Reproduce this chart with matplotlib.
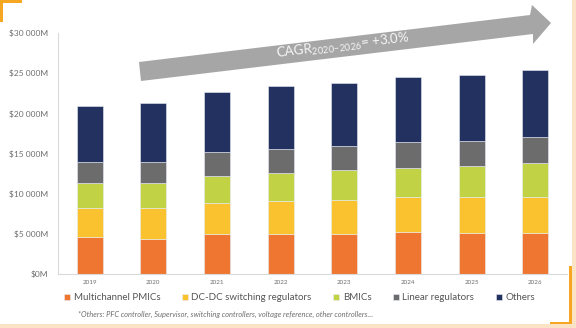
import numpy as np
import matplotlib.pyplot as plt
from matplotlib.patches import Polygon, Rectangle

plt.rcParams['font.family'] = ['Lato', 'DejaVu Sans']
plt.rcParams['mathtext.fontset'] = 'custom'
plt.rcParams['mathtext.rm'] = 'Lato'

# Données (en millions de dollars)
years = ['2019', '2020', '2021', '2022', '2023', '2024', '2025', '2026']
multichannel = [4640, 4400, 4980, 5000, 5000, 5270, 5140, 5140]
dcdc = [3540, 3800, 3920, 4100, 4200, 4280, 4410, 4490]
bmics = [3120, 3100, 3300, 3500, 3700, 3650, 3900, 4170]
linear = [2700, 2700, 3000, 3000, 3000, 3200, 3150, 3200]
others = [6900, 7250, 7500, 7800, 7850, 8100, 8200, 8400]

series = [
    ('Multichannel PMICs', multichannel, '#EF7630'),
    ('DC-DC switching regulators', dcdc, '#FBC22F'),
    ('BMICs', bmics, '#C2D245'),
    ('Linear regulators', linear, '#6B6C6B'),
    ('Others', others, '#22315F'),
]

W, H = 576, 328
fig = plt.figure(figsize=(W / 100, H / 100), dpi=100)
ax = fig.add_axes([58 / W, 1 - 274 / H, (567 - 58) / W, (274 - 33) / H])

x = np.arange(len(years))
bottom = np.zeros(len(years))
for name, vals, col in series:
    ax.bar(x, vals, width=0.41, bottom=bottom, color=col, label=name,
           edgecolor='#E8ECF4', linewidth=0.4)
    bottom += np.array(vals)

ax.set_xlim(-0.5, len(years) - 0.5)
ax.set_ylim(0, 30000)
yt = np.arange(0, 30001, 5000)
ax.set_yticks(yt)
ax.set_yticklabels(['$0M' if v == 0 else '$%d %03dM' % (v // 1000, v % 1000) for v in yt])
ax.set_xticks(x)
ax.set_xticklabels(years)
ax.tick_params(axis='y', length=0, pad=7, labelsize=6, labelcolor='#6E6E6E')
ax.tick_params(axis='x', length=0, pad=4, labelsize=4.5, labelcolor='#6E6E6E')
for s in ['top', 'right']:
    ax.spines[s].set_visible(False)
for s in ['left', 'bottom']:
    ax.spines[s].set_color('#DADADA')
    ax.spines[s].set_linewidth(0.8)

# Légende
leg = fig.legend(loc='center', bbox_to_anchor=(0.52, 1 - 298 / H), ncol=5,
                 frameon=False, fontsize=7, handlelength=0.6, handleheight=0.6,
                 handletextpad=0.4, columnspacing=2.2, labelcolor='#555555')

fig.text(78 / W, 1 - 314 / H,
         '*Others: PFC controller, Supervisor, switching controllers, voltage reference, other controllers\u2026',
         fontsize=5.4, style='italic', color='#6E6E6E', va='center', ha='left')

# Flèche CAGR
pts = [(139, 62), (530, 15), (532, 5), (551, 23), (533, 44), (533, 34), (141, 81)]
arrow = Polygon([(px / W, 1 - py / H) for px, py in pts], closed=True,
                transform=fig.transFigure, facecolor='#A6A6A6', edgecolor='none', zorder=5)
fig.patches.append(arrow)
fig.text(343 / W, 1 - 46 / H, r'CAGR$_{\mathregular{2020\!-\!2026}}$= +3.0%', rotation=6.8,
         rotation_mode='anchor', ha='center', va='center', fontsize=9.5, color='#F6F6F6',
         zorder=6)

# Cadre orange
fig.patches.append(Rectangle((572 / W, 0), 4 / W, 1, transform=fig.transFigure,
                             facecolor='#FCE3C6', edgecolor='none'))
fig.patches.append(Rectangle((0, 0), 1, 4 / H, transform=fig.transFigure,
                             facecolor='#FCE3C6', edgecolor='none'))
fig.patches.append(Rectangle((0, 1 - 22 / H), 2.5 / W, 22 / H, transform=fig.transFigure,
                             facecolor='#F5A623', edgecolor='none'))
fig.patches.append(Rectangle((0, 1 - 2.5 / H), 22 / W, 2.5 / H, transform=fig.transFigure,
                             facecolor='#F5A623', edgecolor='none'))
fig.patches.append(Rectangle((569 / W, 4 / H), 2.5 / W, 58 / H, transform=fig.transFigure,
                             facecolor='#F5A623', edgecolor='none'))
fig.patches.append(Rectangle((550 / W, 4 / H), 21.5 / W, 2.5 / H, transform=fig.transFigure,
                             facecolor='#F5A623', edgecolor='none'))

fig.savefig('out.png', dpi=100)
